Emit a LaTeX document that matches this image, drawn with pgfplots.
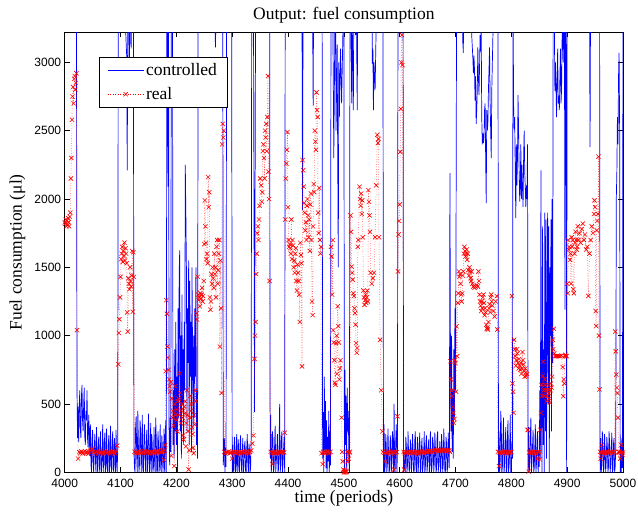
\documentclass[border=0pt]{standalone}
\usepackage{fontspec}
\setmainfont{Liberation Serif}
\setsansfont{Liberation Sans}
\usepackage{pgfplots}
\pgfplotsset{compat=1.18}
\begin{document}
\begin{tikzpicture}
\path[use as bounding box] (-64.7pt,-39.5pt) rectangle (573.3pt,472.3pt);
\begin{axis}[
  at={(0,0)}, anchor=south west,
  scale only axis, width=558.3pt, height=440pt,
  xmin=4000, xmax=5000, ymin=0, ymax=3220,
  xtick={4000,4100,...,5000}, ytick={0,500,...,3000},
  tick align=inside, tick pos=both, major tick length=5pt,
  axis line style={line width=0.8pt},
  every tick/.style={black, line width=0.6pt},
  /pgf/number format/1000 sep={},
  /pgf/number format/assume math mode=true,
  tick label style={font=\fontsize{12}{14}\selectfont\sffamily},
  xticklabel style={yshift=-3pt},
  title={Output: fuel consumption},
  title style={at={(axis description cs:0.5,1.025)}, anchor=center, inner sep=0pt, font=\fontsize{17.5}{21}\selectfont\rmfamily},
  xlabel={time (periods)},
  xlabel style={at={(axis description cs:0.5,-0.058)}, anchor=center, inner sep=0pt, font=\fontsize{17.5}{21}\selectfont\rmfamily},
  ylabel={Fuel consumption (μl)},
  ylabel style={at={(axis description cs:-0.0845,0.5)}, anchor=center, inner sep=0pt, font=\fontsize{17.5}{21}\selectfont\rmfamily},
  legend style={at={(axis description cs:0.0614,0.943)}, anchor=north west, draw=black, line width=0.7pt, font=\fontsize{17.5}{21}\selectfont\rmfamily, inner xsep=8pt, inner ysep=4pt, row sep=6pt},
  legend cell align=left,
  legend image code/.code={\draw[mark repeat=2,mark phase=2,#1] plot coordinates {(0pt,0pt) (18pt,0pt) (36pt,0pt)};},
]
\addplot[color=blue, line width=0.7pt, no marks] coordinates {
(4000,3600)(4010,3700)(4021,3600)(4022,620)(4023,250)(4024,480)
(4025,220)(4026,480)(4027,600)(4028,320)(4029,250)(4030,560)(4031,640)(4032,380)(4033,300)(4034,500)(4035,620)(4036,260)(4037,200)(4038,450)(4039,380)(4040,600)(4041,240)(4042,180)(4043,420)(4044,300)(4045,120)(4046,350)(4047,60)(4048,0)(4049,250)(4050,310)(4051,40)(4052,0)(4053,180)(4054,280)(4055,90)(4056,0)(4057,330)(4058,120)(4059,0)(4060,200)(4061,260)(4062,40)(4063,0)(4064,300)(4065,150)(4066,0)(4067,60)(4068,350)(4069,100)(4070,0)(4071,220)(4072,290)(4073,0)(4074,80)(4075,320)(4076,30)(4077,0)(4078,190)(4079,270)(4080,0)(4081,40)(4082,340)(4083,100)(4084,0)(4085,210)(4086,300)(4087,20)(4088,0)(4089,250)(4090,180)(4091,0)(4092,310)(4093,60)(4094,0)(4095,200)
(4096,3600)(4098,3500)(4100,3300)(4101,3600)(4104,3400)(4106,3600)(4109,3250)(4111,3050)(4112,2210)(4113,3300)(4114,3600)(4116,2900)(4117,3600)(4119,3100)(4120,3600)(4122,3400)(4123,3600)(4124,150)
(4125,30)(4126,0)(4127,330)(4128,410)(4129,120)(4130,0)(4131,450)(4132,200)(4133,0)(4134,60)(4135,380)(4136,300)(4137,0)(4138,150)(4139,420)(4140,20)(4141,0)(4142,260)(4143,350)(4144,90)(4145,0)(4146,200)(4147,310)(4148,0)(4149,50)(4150,430)(4151,240)(4152,0)(4153,100)(4154,360)(4155,0)(4156,280)(4157,190)(4158,0)(4159,40)(4160,330)(4161,80)(4162,0)(4163,400)(4164,250)(4165,10)(4166,0)(4167,300)(4168,220)(4169,0)(4170,60)(4171,350)(4172,30)(4173,0)(4174,270)(4175,180)(4176,0)(4177,90)(4178,320)(4179,0)(4180,240)(4181,380)(4182,0)
(4183,3600)(4184,3300)(4185,2090)(4186,3400)(4187,300)(4188,50)(4189,400)(4190,150)(4191,3600)(4192,3400)(4193,3600)(4194,200)(4195,600)(4196,100)(4197,900)(4198,300)(4199,1100)(4200,200)(4201,700)(4202,0)(4203,1200)(4204,400)(4205,1450)(4206,1624)(4207,300)(4208,1000)(4209,100)(4210,1300)(4211,500)(4212,900)(4213,200)(4214,1100)(4215,600)(4216,2250)(4217,1900)(4218,1500)(4219,300)(4220,1200)(4221,800)(4222,1550)(4223,200)(4224,1400)(4225,700)(4226,1100)(4227,150)(4228,1500)(4229,900)(4230,300)(4231,1000)(4232,400)(4233,1200)(4234,700)(4235,1500)(4236,200)(4237,600)(4238,100)
(4239,3600)(4250,3700)(4268,3600)(4270,3110)(4272,3600)(4283,3600)(4284,50)(4286,250)(4287,0)(4288,180)(4289,40)(4290,3600)(4293,3500)(4296,3600)(4299,3600)(4300,0)
(4301,200)(4302,30)(4303,0)(4304,260)(4305,180)(4306,0)(4307,60)(4308,280)(4309,0)(4310,150)(4311,240)(4312,20)(4313,0)(4314,200)(4315,270)(4316,80)(4317,0)(4318,130)(4319,250)(4320,0)(4321,40)(4322,190)(4323,230)(4324,10)(4325,0)(4326,160)(4327,280)(4328,70)(4329,0)(4330,210)(4331,170)(4332,0)(4333,30)(4334,240)
(4335,3600)(4338,3600)(4340,440)(4342,3600)(4367,3600)(4368,100)
(4369,420)(4370,0)(4371,60)(4372,300)(4373,250)(4374,0)(4375,30)(4376,200)(4377,340)(4378,0)(4379,80)(4380,150)(4381,280)(4382,0)(4383,20)(4384,190)(4385,500)(4386,0)(4387,50)(4388,230)(4389,300)(4390,0)(4391,60)(4392,170)(4393,260)(4394,0)
(4395,3600)(4400,3700)(4424,3600)(4425,3400)(4426,1920)(4427,3500)(4440,3700)(4444,3400)(4445,2680)(4446,3600)(4461,3600)(4462,100)
(4463,440)(4464,0)(4465,700)(4466,150)(4467,520)(4468,30)(4469,380)(4470,0)(4471,260)(4472,80)(4473,450)(4474,0)(4475,300)(4476,50)
(4477,3600)(4480,3500)(4482,2300)(4484,3300)(4485,3600)(4486,2500)(4488,3130)(4490,1500)(4491,3000)(4492,2600)(4494,3100)(4496,2700)(4498,3150)(4500,3600)(4501,0)(4502,750)(4503,200)(4504,560)(4505,0)(4506,620)(4507,300)(4508,450)(4509,100)(4510,0)
(4511,3600)(4513,3400)(4514,2700)(4515,3300)(4517,2650)(4518,3600)(4521,3200)(4522,3600)(4524,2650)(4525,3600)(4550,3700)(4551,2990)(4552,3100)(4553,2650)(4554,3000)(4556,2800)(4558,3300)(4560,3600)(4570,3600)(4571,0)
(4572,350)(4573,0)(4574,40)(4575,280)(4576,200)(4577,0)(4578,60)(4579,320)(4580,150)(4581,0)(4582,20)(4583,270)(4584,230)(4585,0)(4586,90)(4587,300)(4588,180)(4589,0)(4590,500)(4591,0)(4592,30)(4593,240)(4594,350)(4595,0)(4596,150)
(4597,3600)(4606,3600)(4607,0)
(4608,150)(4609,20)(4610,0)(4611,260)(4612,190)(4613,0)(4614,50)(4615,300)(4616,120)(4617,0)(4618,30)(4619,240)(4620,200)(4621,0)(4622,60)(4623,280)(4624,170)(4625,0)(4626,10)(4627,230)(4628,300)(4629,40)(4630,0)(4631,150)(4632,260)(4633,0)(4634,70)(4635,200)(4636,290)(4637,0)(4638,20)(4639,180)(4640,250)(4641,0)(4642,50)(4643,140)(4644,300)(4645,0)(4646,30)(4647,220)(4648,270)(4649,0)(4650,60)(4651,190)(4652,240)(4653,0)(4654,10)(4655,300)(4656,160)(4657,0)(4658,40)(4659,260)(4660,210)(4661,0)(4662,70)(4663,290)(4664,180)(4665,0)(4666,20)(4667,250)(4668,300)(4669,0)(4670,50)(4671,140)(4672,230)(4673,0)(4674,30)(4675,280)(4676,200)(4677,0)(4678,60)(4679,320)(4680,170)(4681,0)(4682,10)(4683,260)(4684,210)(4685,0)(4686,40)(4687,290)(4688,120)(4689,30)
(4690,2190)(4691,800)(4692,300)(4693,1000)(4694,150)(4695,600)(4696,100)(4697,900)(4698,400)(4699,1200)(4700,600)(4701,1800)(4702,3600)(4712,3600)(4713,3150)(4714,3070)(4715,3600)(4728,3600)(4729,3200)(4731,3040)(4732,2920)(4733,3050)(4734,2950)(4735,2720)(4736,2900)(4737,2550)(4738,2650)(4739,2800)(4740,3110)(4741,2900)(4742,2760)(4743,2950)(4744,3200)(4745,3080)(4746,3250)(4747,2600)(4748,2400)(4749,2480)(4750,2410)(4751,2450)(4752,2650)(4753,2700)(4754,2300)(4755,1970)(4756,2650)(4757,2500)(4758,2560)(4759,2800)(4760,2950)(4761,3110)(4762,2700)(4763,2500)(4764,2300)(4765,2800)(4766,3000)(4767,3200)(4768,3400)(4776,3600)(4777,0)
(4778,300)(4779,0)(4780,80)(4781,450)(4782,350)(4783,0)(4784,40)(4785,250)(4786,400)(4787,0)(4788,60)(4789,200)(4790,330)(4791,0)(4792,20)(4793,270)(4794,380)(4795,0)(4796,50)(4797,150)(4798,420)(4799,0)(4800,10)(4801,230)(4802,100)
(4803,3600)(4804,2700)(4805,2510)(4806,2600)(4807,2200)(4808,1860)(4809,2400)(4810,2100)(4811,2300)(4812,2760)(4813,2500)(4814,2200)(4815,1980)(4816,2100)(4817,2400)(4818,2000)(4819,2250)(4820,2080)(4821,1940)(4822,2300)(4823,2500)(4824,2200)(4825,2080)(4826,1940)(4827,2100)(4828,2000)(4829,2400)(4830,0)
(4831,330)(4832,0)(4833,50)(4834,260)(4835,400)(4836,0)(4837,80)(4838,200)(4839,310)(4840,0)(4841,30)(4842,180)(4843,350)(4844,0)(4845,60)(4846,240)(4847,300)(4848,0)(4849,150)(4850,40)
(4851,600)(4852,100)(4853,2210)(4854,400)(4855,0)(4856,1800)(4857,200)(4858,900)(4859,0)(4860,1900)(4861,300)(4862,1850)(4863,100)(4864,1200)(4865,1900)(4866,500)(4867,1800)(4868,0)(4869,1500)(4870,1000)(4871,1850)(4872,300)(4873,2000)(4874,800)(4875,3600)(4877,3300)(4878,2790)(4879,3000)(4880,2810)(4881,2600)(4882,2900)(4883,3100)(4884,2700)(4885,2750)(4886,2650)(4887,2900)(4888,3100)(4889,2700)(4890,2800)(4891,3200)(4892,3300)(4893,3000)(4894,3400)(4895,3600)(4896,1190)(4897,3600)(4898,3600)(4899,0)
(4900,3600)(4939,3600)(4940,3400)(4941,2380)(4942,3600)(4958,3600)(4959,0)
(4960,250)(4961,0)(4962,60)(4963,300)(4964,200)(4965,0)(4966,30)(4967,280)(4968,150)(4969,0)(4970,80)(4971,260)(4972,190)(4973,0)(4974,40)(4975,300)(4976,220)(4977,0)(4978,60)(4979,170)(4980,290)(4981,0)(4982,20)(4983,210)(4984,250)(4985,0)(4986,40)(4987,180)
(4988,2000)(4989,2200)(4990,2600)(4991,2400)(4992,2900)(4993,3070)(4994,2500)(4995,0)(4996,200)(4997,0)(4998,250)(4999,30)(5000,3600)
};
\addlegendentry{controlled}
\addplot[color=red, line width=0.5pt, dash pattern=on 0.5pt off 2pt, mark=x, mark size=3pt, mark options={solid, line width=0.6pt}] coordinates {
(4000,1830)(4001,1820)(4002,1850)(4003,1800)(4004,1840)(4005,1810)(4006,1860)(4007,1830)(4008,1800)(4009,1870)(4010,1900)(4011,2150)(4012,2300)(4013,2580)(4014,2750)(4015,2820)(4016,2700)(4017,2880)(4018,2900)(4019,2800)(4020,2850)(4021,2920)(4022,1040)
(4024,100)(4026,148)(4028,140)(4030,152)(4032,138)(4034,146)(4036,155)(4038,142)(4040,150)(4042,136)(4044,148)(4046,158)(4048,165)(4050,170)(4052,150)(4054,140)(4056,147)(4058,153)(4060,138)(4062,145)(4064,150)(4066,142)(4068,148)(4070,136)(4072,152)(4074,145)(4076,140)(4078,150)(4080,146)(4082,138)(4084,154)(4086,143)(4088,149)(4090,140)(4092,152)(4094,195)
(4096,790)(4097,1020)(4098,1120)(4099,1280)(4100,1430)(4101,1560)(4102,1600)(4103,1650)(4104,1540)(4105,1620)(4106,1580)(4107,1680)(4108,1550)(4109,1640)(4110,1600)(4111,1530)(4112,1170)(4113,1030)(4114,1420)(4115,1380)(4116,1340)(4117,1500)(4118,1400)(4119,1360)(4120,1440)(4121,1620)(4122,1175)(4123,1610)(4124,1430)
(4125,150)(4127,142)(4129,148)(4131,138)(4133,152)(4135,145)(4137,140)(4139,150)(4141,146)(4143,155)(4145,140)(4147,148)(4149,152)(4151,138)(4153,145)(4155,150)(4157,143)(4159,148)(4161,140)(4163,155)(4165,146)(4167,150)(4169,160)(4171,152)(4173,145)(4175,158)(4177,150)(4178,90)(4179,160)
(4180,200)(4181,740)(4182,1260)(4183,1160)(4184,920)(4185,840)(4186,750)(4187,680)(4188,630)(4189,590)(4190,660)(4191,120)(4192,540)(4193,400)(4194,450)(4195,340)(4196,45)(4197,500)(4198,630)(4199,420)(4200,380)(4201,460)(4202,300)(4203,520)(4204,540)(4205,420)(4206,725)(4207,580)(4208,360)(4209,450)(4210,500)(4211,400)(4212,270)(4213,240)(4214,480)(4215,430)(4216,520)(4217,190)(4218,360)(4219,600)(4220,420)(4221,300)(4222,20)(4223,160)(4224,400)(4225,560)(4226,450)(4227,500)(4228,330)(4229,280)(4230,180)(4231,140)(4232,420)(4233,350)(4234,600)(4235,520)(4236,1163)(4237,1118)(4238,1430)(4239,1300)(4240,1260)(4241,1280)(4242,1215)(4243,1310)(4244,1270)(4245,1300)(4246,1350)(4247,1250)(4248,1290)(4249,1400)(4250,1670)(4251,1990)(4252,1800)(4253,1680)(4254,1560)(4255,1600)(4256,1530)(4257,2160)(4258,1940)(4259,2050)(4260,1280)(4261,1190)(4262,1250)(4263,1450)(4264,1380)(4265,1500)(4266,1420)(4267,1350)(4268,1600)(4269,1450)(4270,1500)(4271,1280)(4272,1650)(4273,1700)(4274,1380)(4275,1480)(4276,1600)(4277,1700)(4278,920)(4279,1550)(4280,1200)(4281,580)(4282,2400)(4283,2550)(4284,2450)(4285,2500)
(4286,150)(4288,138)(4290,148)(4292,145)(4294,152)(4296,140)(4298,146)(4300,100)(4302,150)(4304,142)(4306,148)(4308,138)(4310,152)(4312,145)(4314,140)(4316,150)(4318,146)(4320,155)(4322,140)(4324,148)(4326,152)(4328,138)(4330,145)(4332,150)(4334,160)
(4336,210)(4338,270)(4340,830)(4341,1000)(4342,1100)(4343,1450)(4344,1600)(4345,1750)(4346,1800)(4347,1700)(4348,1850)(4349,1950)(4350,2150)(4352,2100)(4353,1980)(4354,2050)(4355,2350)(4356,2400)(4357,2300)(4358,2150)(4359,2500)(4360,2450)(4361,2550)(4362,2350)(4363,2600)(4364,2900)(4365,2200)(4366,2000)(4367,1400)
(4369,150)(4371,142)(4372,60)(4373,148)(4375,140)(4377,152)(4379,145)(4381,138)(4383,150)(4385,146)(4387,142)(4389,150)(4391,148)(4393,145)
(4394,290)(4395,1850)(4396,2150)(4397,2260)(4398,2360)(4399,2490)(4400,1940)(4401,1700)(4402,1650)(4403,1670)(4404,1640)(4405,1600)(4406,1850)(4407,1560)(4408,1700)(4409,1660)(4410,1500)(4411,1550)(4412,1460)(4413,1600)(4414,1640)(4415,1400)(4416,1330)(4417,1520)(4418,1460)(4419,1400)(4420,1300)(4421,1100)(4422,1680)(4423,1590)(4424,1530)(4425,775)(4426,2285)(4427,2210)(4428,2090)(4429,1970)(4430,1900)(4431,1770)(4432,1830)(4433,1700)(4434,1950)(4435,2000)(4436,1880)(4437,1720)(4438,1850)(4439,1620)(4440,1960)(4441,2040)(4442,1700)(4443,1250)(4444,1150)(4445,1800)(4446,2110)(4447,2050)(4448,2500)(4449,2420)(4450,2360)(4451,2780)(4452,2650)(4453,2600)(4454,1900)(4455,1750)(4456,2080)(4457,1700)(4458,1600)(4459,1650)
(4460,140)(4462,60)(4463,145)(4465,150)(4467,140)(4469,148)(4471,152)(4473,138)(4475,146)(4476,150)
(4477,1650)(4478,1580)(4479,1300)(4480,1700)(4481,1040)(4482,950)(4483,820)(4484,655)(4485,640)(4486,945)(4487,1000)(4488,720)(4489,1215)(4490,1070)(4491,950)(4492,680)(4493,760)(4494,820)(4496,400)(4497,150)(4498,80)(4499,20)
(4500,0)(4501,15)(4502,0)(4503,10)(4504,0)(4505,5)(4506,150)(4507,80)(4508,140)(4509,100)(4510,150)(4511,145)
(4512,1880)(4513,1760)(4514,1505)(4515,1460)(4516,1410)(4517,1310)(4518,1290)(4519,1200)(4520,1165)(4521,1080)(4522,945)(4523,875)(4524,910)(4525,1650)(4526,1700)(4528,2090)(4529,2000)(4530,1950)(4531,2040)(4532,1890)(4533,1990)(4534,1720)(4535,1330)(4536,1280)(4537,1225)(4538,1260)(4539,1300)(4540,1240)(4541,1280)(4542,1330)(4543,1250)(4544,2065)(4545,1980)(4546,1880)(4547,1760)(4548,1460)(4550,1380)(4552,1420)(4554,1460)(4556,1720)(4558,2100)(4560,2470)(4561,2410)(4562,2440)(4563,1720)(4565,970)(4567,600)(4569,300)
(4570,150)(4572,142)(4574,80)(4576,148)(4578,140)(4580,152)(4582,145)(4584,138)(4586,150)(4588,146)(4590,20)(4591,142)(4593,150)(4595,148)
(4596,410)(4597,1470)(4598,1740)(4599,1840)(4600,1960)(4601,2345)(4602,2660)(4603,3000)(4604,3200)(4605,2980)
(4607,150)(4608,20)(4609,140)(4611,148)(4613,145)(4615,152)(4617,138)(4619,146)(4621,150)(4623,142)(4625,148)(4627,140)(4629,152)(4631,145)(4633,138)(4635,150)(4637,146)(4639,155)(4641,142)(4643,148)(4645,152)(4647,145)(4649,150)(4651,156)(4653,148)(4655,152)(4657,158)(4659,150)(4661,160)(4663,155)(4665,162)(4667,158)(4669,165)(4671,155)(4673,160)(4675,163)(4677,158)(4679,165)(4681,160)(4683,155)(4685,162)(4687,158)(4689,160)
(4690,150)(4691,813)(4692,680)(4693,600)(4694,557)(4695,480)(4696,435)(4697,360)(4698,390)(4699,820)(4700,800)(4701,590)(4702,1068)(4703,850)(4704,1240)(4705,1310)(4706,1470)(4707,1430)(4708,1450)(4709,1380)(4710,1300)(4711,1250)(4712,1310)(4713,1440)(4714,1470)(4715,1600)(4716,1650)(4717,1620)(4718,1580)(4719,1600)(4720,1630)(4721,1555)(4722,1600)(4723,1480)(4724,1440)(4725,1500)(4726,1470)(4727,1420)(4728,1400)(4729,1470)(4730,1380)(4732,1360)(4734,1350)(4736,1360)(4738,1370)(4740,1360)(4741,1470)(4742,1400)(4743,1300)(4744,1250)(4745,1220)(4746,1180)(4747,1250)(4748,1200)(4749,1280)(4750,1300)(4751,1240)(4752,1150)(4753,1200)(4754,1170)(4755,1080)(4756,1050)(4757,1060)(4758,1045)(4759,1100)(4760,1200)(4761,1230)(4762,1170)(4763,1280)(4764,1300)(4765,1250)(4766,1220)(4768,1180)(4770,1140)(4772,1250)(4774,1290)(4775,1045)
(4776,150)(4778,45)(4779,145)(4781,150)(4783,140)(4785,148)(4787,152)(4789,145)(4791,138)(4793,150)(4795,146)(4797,142)(4799,150)(4800,148)
(4801,1290)(4802,650)(4803,590)(4804,435)(4805,970)(4806,900)(4807,850)(4808,780)(4809,820)(4810,900)(4811,870)(4812,800)(4813,760)(4814,830)(4815,780)(4816,750)(4817,800)(4818,720)(4819,760)(4820,880)(4821,820)(4822,790)(4823,740)(4824,700)(4825,760)(4826,730)(4827,705)(4828,720)(4829,310)
(4830,310)(4831,5)(4832,145)(4834,150)(4836,140)(4838,148)(4840,152)(4842,145)(4844,138)(4846,100)(4847,150)(4849,146)(4850,150)
(4851,95)(4852,310)(4853,435)(4854,640)(4855,560)(4856,705)(4857,810)(4858,600)(4859,560)(4860,680)(4861,640)(4862,600)(4863,520)(4864,560)(4865,640)(4866,600)(4867,580)(4868,540)(4869,510)(4870,600)(4871,650)(4872,620)(4873,700)(4874,970)(4875,900)(4876,1050)(4877,870)(4878,850)(4880,850)(4882,850)(4884,850)(4886,850)(4888,850)(4890,855)(4892,770)(4893,557)(4894,680)(4895,650)(4896,850)(4897,860)(4898,850)
(4899,850)(4900,1380)(4901,1310)(4902,1700)(4903,1630)(4904,1650)(4905,1555)(4906,1600)(4907,1380)(4908,1720)(4909,1650)(4910,1700)(4911,1340)(4912,1310)(4913,1600)(4914,1680)(4915,1760)(4916,1700)(4917,1630)(4918,1650)(4919,1800)(4920,1700)(4922,1750)(4924,1680)(4926,1780)(4928,1820)(4930,1700)(4932,1740)(4934,1630)(4936,1650)(4938,1290)(4940,1600)(4942,1700)(4944,1800)(4946,1750)(4948,1890)(4949,1990)(4950,1940)(4951,1180)(4952,1070)(4953,1770)(4954,1840)(4955,1890)(4956,2310)(4957,1000)(4958,607)
(4959,150)(4960,100)(4961,145)(4962,200)(4963,140)(4965,150)(4967,146)(4969,138)(4971,152)(4973,145)(4975,140)(4977,150)(4979,148)(4981,142)(4983,150)(4985,146)
(4986,1030)(4987,885)(4988,715)(4989,620)(4990,580)(4991,400)
(4992,150)(4993,150)(4994,145)(4995,100)(4996,140)(4997,200)(4998,150)(4999,130)(5000,145)
};
\addlegendentry{real}
\end{axis}
\end{tikzpicture}
\end{document}
